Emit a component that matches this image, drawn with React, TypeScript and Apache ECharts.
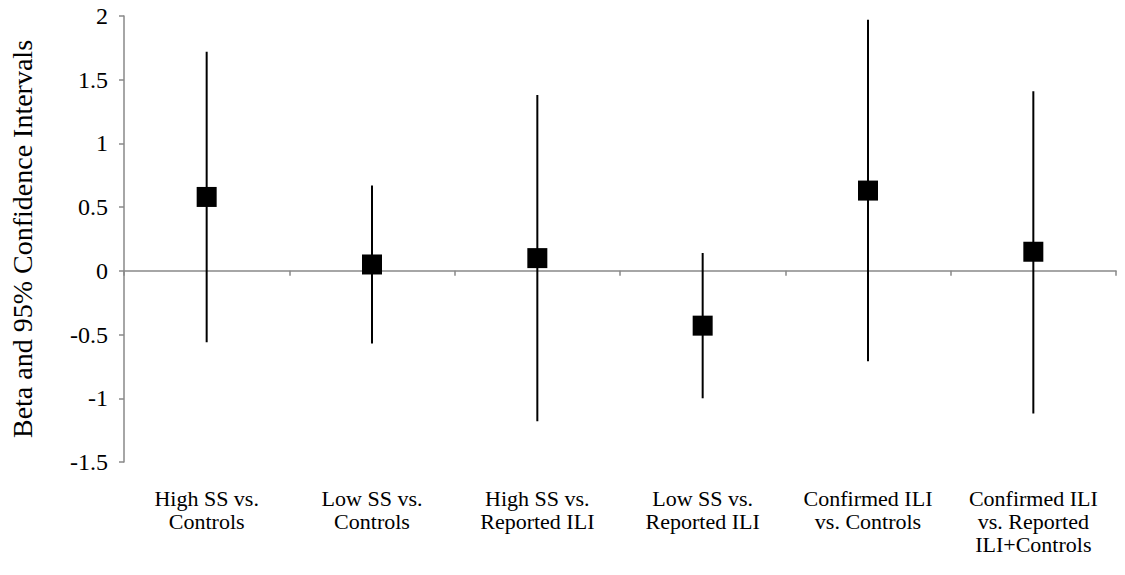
import React, { useEffect, useRef } from "react";
import * as echarts from "echarts";

const categories = [
  "High SS vs.\nControls",
  "Low SS vs.\nControls",
  "High SS vs.\nReported ILI",
  "Low SS vs.\nReported ILI",
  "Confirmed ILI\nvs. Controls",
  "Confirmed ILI\nvs. Reported\nILI+Controls",
];
const beta = [0.58, 0.05, 0.1, -0.43, 0.63, 0.15];
const upper = [1.72, 0.67, 1.38, 0.14, 1.97, 1.41];
const lower = [-0.56, -0.57, -1.18, -1.0, -0.71, -1.12];
const yTicks = { min: -1.5, max: 2, interval: 0.5 };

const FONT = "Liberation Serif, Times New Roman, serif";
const AXIS_COLOR = "#898989";

export default function App() {
  const ref = useRef<HTMLDivElement>(null);
  useEffect(() => {
    if (!ref.current) return;
    const chart = echarts.init(ref.current, undefined, { renderer: "svg" });
    const errData = categories.map((_, i) => [i, lower[i], upper[i]]);
    chart.setOption({
      animation: false,
      backgroundColor: "#ffffff",
      textStyle: { fontFamily: FONT },
      grid: { left: 123, right: 9, top: 16, bottom: 113 },
      xAxis: [
        {
          type: "category",
          data: categories,
          axisLine: { onZero: true, lineStyle: { color: AXIS_COLOR, width: 1.5 } },
          axisTick: { show: true, length: 5, alignWithLabel: false, lineStyle: { color: AXIS_COLOR, width: 1.5 } },
          axisLabel: { show: false },
          splitLine: { show: false },
        },
        {
          type: "category",
          data: categories,
          position: "bottom",
          axisLine: { show: false, onZero: false },
          axisTick: { show: false },
          axisLabel: {
            interval: 0,
            color: "#000",
            fontFamily: FONT,
            fontSize: 22,
            lineHeight: 23,
            margin: 25,
            align: "center",
          },
          splitLine: { show: false },
        },
      ],
      yAxis: {
        type: "value",
        min: yTicks.min,
        max: yTicks.max,
        interval: yTicks.interval,
        name: "Beta and 95% Confidence Intervals",
        nameLocation: "middle",
        nameRotate: 90,
        nameGap: 88,
        nameTextStyle: { color: "#000", fontFamily: FONT, fontSize: 28 },
        axisLine: { show: true, lineStyle: { color: AXIS_COLOR, width: 1.5 } },
        axisTick: { show: true, length: 5, lineStyle: { color: AXIS_COLOR, width: 1.5 } },
        axisLabel: { color: "#000", fontFamily: FONT, fontSize: 24, margin: 16 },
        splitLine: { show: false },
      },
      series: [
        {
          type: "custom",
          xAxisIndex: 0,
          z: 2,
          data: errData,
          encode: { x: 0, y: [1, 2] },
          renderItem: (params: any, api: any) => {
            const x = api.value(0);
            const p1 = api.coord([x, api.value(1)]);
            const p2 = api.coord([x, api.value(2)]);
            return {
              type: "line",
              shape: { x1: p1[0], y1: p1[1], x2: p2[0], y2: p2[1] },
              style: { stroke: "#000", lineWidth: 2 },
            };
          },
        },
        {
          type: "scatter",
          xAxisIndex: 0,
          z: 3,
          symbol: "rect",
          symbolSize: 20,
          itemStyle: { color: "#000", opacity: 1 },
          data: beta.map((v, i) => [i, v]),
        },
      ],
    });
    return () => chart.dispose();
  }, []);
  return (
    <div
      ref={ref}
      style={{ position: "absolute", left: 0, top: 0, width: 1125, height: 575 }}
    />
  );
}
